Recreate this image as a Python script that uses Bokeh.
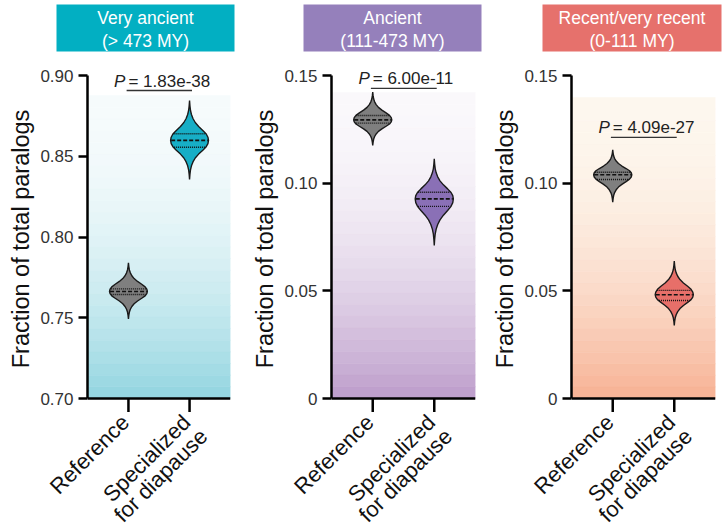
import numpy as np
from bokeh.plotting import figure
from bokeh.layouts import column, row
from bokeh.models import Range1d, FixedTicker, Label
from bokeh.embed import file_html
from bokeh.resources import INLINE
from bokeh.core.properties import value

# ---------------- data ----------------
categories = ["Reference", "Specialized\nfor diapause"]
panel_titles = ["Very ancient\n(> 473 MY)", "Ancient\n(111-473 MY)", "Recent/very recent\n(0-111 MY)"]
p_values = ["1.83e-38", "6.00e-11", "4.09e-27"]

# violin summaries: [Reference, Specialized for diapause]
very_ancient_min = [0.7493, 0.8356]
very_ancient_q1 = [0.7644, 0.8556]
very_ancient_median = [0.7663, 0.8598]
very_ancient_q3 = [0.7679, 0.8639]
very_ancient_max = [0.7840, 0.8845]

ancient_min = [0.1175, 0.0711]
ancient_q1 = [0.1279, 0.0892]
ancient_median = [0.1294, 0.0927]
ancient_q3 = [0.1314, 0.0958]
ancient_max = [0.1423, 0.1113]

recent_min = [0.0912, 0.0339]
recent_q1 = [0.1017, 0.0455]
recent_median = [0.1039, 0.0482]
recent_q3 = [0.1051, 0.0502]
recent_max = [0.1155, 0.0638]

yticks_very_ancient = [0.70, 0.75, 0.80, 0.85, 0.90]
ytick_labels_very_ancient = ["0.70", "0.75", "0.80", "0.85", "0.90"]
yticks_other = [0.0, 0.05, 0.10, 0.15]
ytick_labels_other = ["0", "0.05", "0.10", "0.15"]

# ---------------- style / layout ----------------
FONT = "Liberation Sans"
title_colors = ["#02afc2", "#9580bb", "#e6716c"]
violin_colors = [["#7f7f7f", "#17aec6"], ["#7f7f7f", "#8a70b6"], ["#7f7f7f", "#e76f69"]]
grad_top = ["#f6fbfc", "#faf8fb", "#fdf7ee"]
grad_bottom = ["#92d5e0", "#bd9dcb", "#f7b194"]
grad_top_y = [0.8876, 0.1421, 0.1398]
bracket_y = [0.8907, 0.1440, 0.1213]
y_ranges = [(0.70, 0.90), (0.0, 0.15), (0.0, 0.15)]
X_RANGE = (0.33, 2.67)
PANEL_W = 242
TOP_H, TOTAL_H = 57, 525
AXIS_PX = 323          # pixel length of the value axis
TOP_PAD_PX = 10        # frame room above the axis end (for the P labels)
BOTTOM_PAD_PX = 14     # frame room below the axis (x ticks)
PANEL_TOP_BORDER = 8
PANEL_H = PANEL_TOP_BORDER + TOP_PAD_PX + AXIS_PX + BOTTOM_PAD_PX
BOTTOM_H = TOTAL_H - TOP_H - PANEL_H
left_borders = [87, 89, 87]
right_borders = [12, 9, 11]
title_box_left = [56, 303, 542]
title_box_right = [234, 481, 721]
CAT_FONT_PX = 22
CAT_LINE_PX = 22       # perpendicular distance between label lines
CAT_USHIFT_PX = 2      # shift of following lines along the text direction
CAT_DX_PX, CAT_DY_PX = -3, 6   # first-line anchor relative to the tick end (strip coords)

# shared violin outline shape (fraction of half-span from median -> fraction of max half width)
shape_off = [0.0, 0.08, 0.16, 0.25, 0.35, 0.45, 0.55, 0.65, 0.75, 0.87, 1.0]
shape_w = [1.0, 0.97, 0.88, 0.7, 0.48, 0.3, 0.18, 0.1, 0.05, 0.02, 0.0]
HALF_W = 0.31

stats = [
    (very_ancient_min, very_ancient_q1, very_ancient_median, very_ancient_q3, very_ancient_max),
    (ancient_min, ancient_q1, ancient_median, ancient_q3, ancient_max),
    (recent_min, recent_q1, recent_median, recent_q3, recent_max),
]


def hex2rgb(h):
    h = h.lstrip("#")
    return np.array([int(h[i:i + 2], 16) for i in (0, 2, 4)], dtype=float)


def rgb2hex(c):
    return "#%02x%02x%02x" % tuple(int(round(v)) for v in c)


def half_width_at(y, med, lo, hi):
    if y >= med:
        f = (y - med) / (hi - med)
    else:
        f = (med - y) / (med - lo)
    return np.interp(f, shape_off, shape_w) * HALF_W


def strip(h):
    s = figure(width=PANEL_W * 3, height=h, x_range=Range1d(0, PANEL_W * 3), y_range=Range1d(h, 0),
               toolbar_location=None, output_backend="svg", min_border=0)
    s.axis.visible = False
    s.xgrid.visible = False
    s.ygrid.visible = False
    s.outline_line_color = None
    return s


# ---------------- title strip ----------------
top = strip(TOP_H)
top.quad(left=title_box_left, right=title_box_right, top=[4] * 3, bottom=[51] * 3,
         fill_color=title_colors, line_color=None)
top.text(x=[(a + b) / 2 for a, b in zip(title_box_left, title_box_right)], y=[28.5] * 3,
         text=panel_titles, text_align="center", text_baseline="middle",
         text_color="white", text_font=value(FONT), text_font_size="17.5px",
         text_line_height=1.15)

# ---------------- bottom strip: category labels ----------------
bottom = strip(BOTTOM_H)
U = np.array([np.sqrt(0.5), -np.sqrt(0.5)])   # along rotated text (screen, y down)
V = np.array([np.sqrt(0.5), np.sqrt(0.5)])    # across rotated text, towards next line

# ---------------- panels ----------------
panels = []
for i in range(3):
    y0, y1 = y_ranges[i]
    lb, rb = left_borders[i], right_borders[i]
    fw = PANEL_W - lb - rb
    px_x = (X_RANGE[1] - X_RANGE[0]) / fw
    px_y = (y1 - y0) / AXIS_PX
    p = figure(width=PANEL_W, height=PANEL_H, x_range=Range1d(*X_RANGE),
               y_range=Range1d(y0 - BOTTOM_PAD_PX * px_y, y1 + TOP_PAD_PX * px_y),
               toolbar_location=None, output_backend="svg", x_axis_location=None,
               min_border_left=lb, min_border_right=rb,
               min_border_top=PANEL_TOP_BORDER, min_border_bottom=0)
    p.xgrid.visible = False
    p.ygrid.visible = False
    p.outline_line_color = None

    # gradient background
    n = 26
    edges = np.linspace(grad_top_y[i], y0, n + 1)
    ct, cb = hex2rgb(grad_top[i]), hex2rgb(grad_bottom[i])
    cols = [rgb2hex(ct + (cb - ct) * ((k + 0.5) / n) ** 2) for k in range(n)]
    p.quad(left=X_RANGE[0], right=X_RANGE[1], top=edges[:-1], bottom=edges[1:], fill_color=cols,
           line_color=cols, line_width=0.5)

    vmin, vq1, vmed, vq3, vmax = stats[i]
    for j in range(2):
        xc = j + 1
        lo, med, hi = vmin[j], vmed[j], vmax[j]
        up_y = [med + o * (hi - med) for o in shape_off]
        dn_y = [med - o * (med - lo) for o in shape_off]
        ws = [w * HALF_W for w in shape_w]
        xs = ([xc + w for w in ws[::-1]] + [xc + w for w in ws[1:]] +
              [xc - w for w in ws[::-1]] + [xc - w for w in ws[1:]])
        ys = (dn_y[::-1] + up_y[1:] + up_y[::-1] + dn_y[1:])
        p.patch(xs, ys, fill_color=violin_colors[i][j], line_color="#1a1a1a", line_width=1.4)
        for yq, dash, lw in ((vq1[j], "1 1", 1.4), (vq3[j], "1 1", 1.4), (med, "4 2", 1.6)):
            hw = half_width_at(yq, med, lo, hi) * 0.97
            p.segment(x0=[xc - hw], x1=[xc + hw], y0=[yq], y1=[yq], line_color="#111111",
                      line_width=lw, line_dash=dash)

    # p-value bracket
    p.segment(x0=[0.97], x1=[2.04], y0=[bracket_y[i]], y1=[bracket_y[i]],
              line_color="#333333", line_width=1.3)
    p.add_layout(Label(x=1.0 - 3 * px_x, y=bracket_y[i], text="P",
                       text_align="right", text_baseline="bottom",
                       text_font=FONT, text_font_size="17px", text_font_style="italic",
                       text_color="#222222"))
    p.add_layout(Label(x=1.0, y=bracket_y[i], text="= " + p_values[i],
                       text_align="left", text_baseline="bottom",
                       text_font=FONT, text_font_size="17px", text_color="#222222"))

    # x axis line and ticks at the category positions
    cat_x = [j + 1 for j in range(len(categories))]
    p.segment(x0=[X_RANGE[0]], x1=[X_RANGE[1]], y0=[y0], y1=[y0], line_color="black", line_width=2.5)
    p.segment(x0=cat_x, x1=cat_x, y0=[y0] * len(cat_x), y1=[y0 - BOTTOM_PAD_PX * px_y] * len(cat_x),
              line_color="black", line_width=2.5)

    # y axis
    ticks, labels = ((yticks_very_ancient, ytick_labels_very_ancient) if i == 0
                     else (yticks_other, ytick_labels_other))
    ax = p.yaxis[0]
    ax.bounds = (y0, y1)
    ax.ticker = FixedTicker(ticks=ticks)
    ax.major_label_overrides = {t: l for t, l in zip(ticks, labels)}
    ax.axis_label = "Fraction of total paralogs"
    ax.axis_label_text_font = FONT
    ax.axis_label_text_font_size = "23.5px"
    ax.axis_label_text_font_style = "normal"
    ax.axis_label_text_color = "#111111"
    ax.axis_label_standoff = 3
    ax.major_label_text_font = FONT
    ax.major_label_text_font_size = "17px"
    ax.major_label_text_color = "#333333"
    ax.major_label_standoff = 5
    ax.major_tick_in = 0
    ax.major_tick_out = 9
    ax.minor_tick_line_color = None
    ax.axis_line_width = 2.5
    ax.axis_line_color = "black"
    ax.major_tick_line_width = 2.5
    ax.major_tick_line_color = "black"
    panels.append(p)

    # category labels in the strip below (x derived from the panel's x scale)
    fl = PANEL_W * i + lb
    for j, cat in enumerate(categories):
        tick_px = fl + (cat_x[j] - X_RANGE[0]) / px_x
        base = np.array([tick_px + CAT_DX_PX, CAT_DY_PX])
        for k, line in enumerate(cat.split("\n")):
            pos = base + k * CAT_LINE_PX * V + k * CAT_USHIFT_PX * U
            bottom.text(x=[pos[0]], y=[pos[1]], text=[line],
                        angle=np.pi / 4, text_align="right", text_baseline="middle",
                        text_font=value(FONT), text_font_size=f"{CAT_FONT_PX}px",
                        text_color="#111111")

layout = column(top, row(*panels, spacing=0), bottom, spacing=0)
open("out.html", "w").write(file_html(layout, INLINE))
